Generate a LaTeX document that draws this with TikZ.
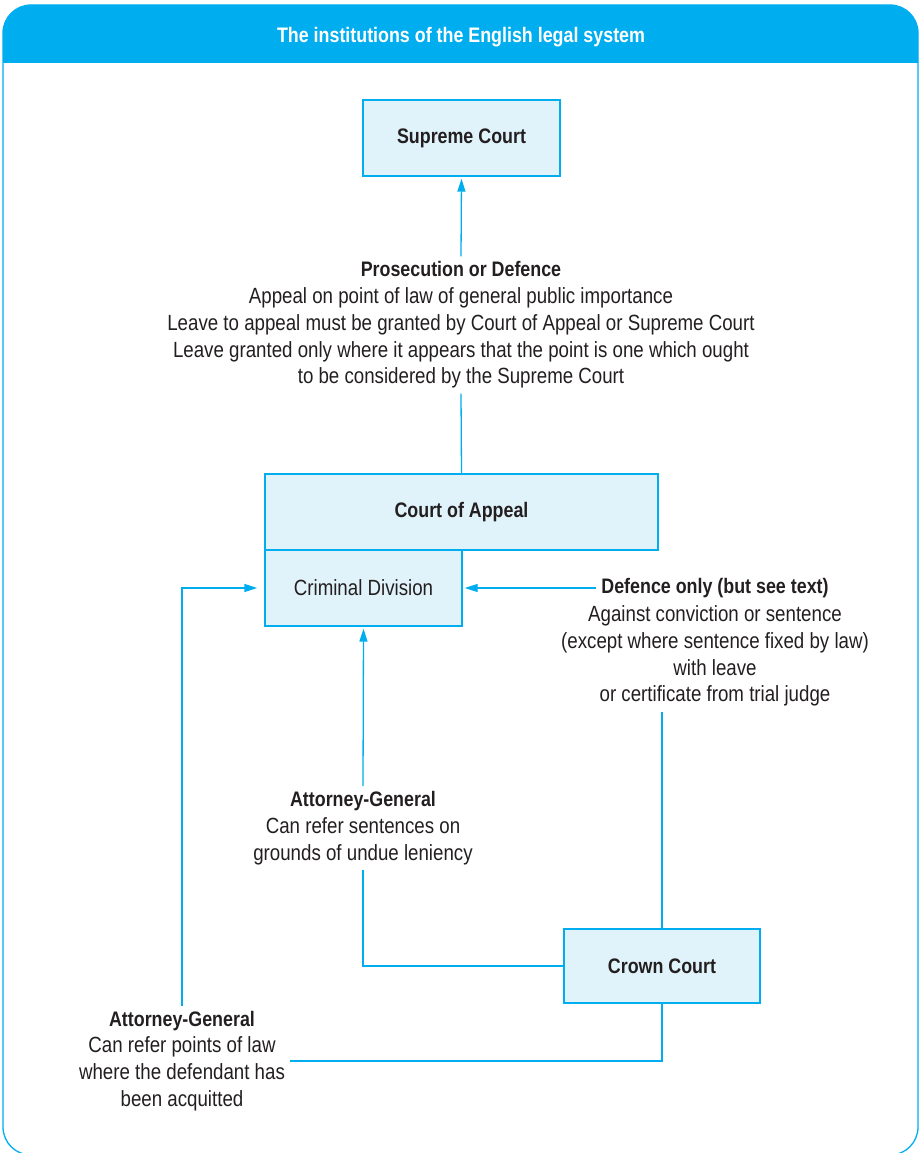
\documentclass[tikz,border=0pt]{standalone}
\usepackage{fontspec}
\setmainfont{Liberation Sans}[FakeStretch=0.85]
\usetikzlibrary{arrows.meta,positioning}
\definecolor{lineblue}{RGB}{0,174,239}
\definecolor{boxblue}{RGB}{224,242,250}
\definecolor{ink}{RGB}{35,31,32}
\begin{document}
\begin{tikzpicture}[x=1pt,y=-1pt,
    court/.style={draw=lineblue,fill=boxblue,line width=1.3pt,text=ink,
      font=\fontsize{21}{27}\selectfont\bfseries,inner sep=0pt},
    note/.style={align=center,text=ink,font=\fontsize{22}{26.8}\selectfont,inner sep=5pt},
    head/.style={note,font=\fontsize{21}{26.8}\selectfont\bfseries},
    link/.style={draw=lineblue,line width=1.3pt},
    arr/.style={link,-{Triangle[length=13pt,width=8pt]},shorten >=2pt}]
\useasboundingbox (0,0) rectangle (918,1153);
\begin{scope}
  \clip (0,0) rectangle (918,63);
  \fill[lineblue,rounded corners=28] (3,5) rectangle (918,200);
\end{scope}
\draw[lineblue,line width=1.3pt,rounded corners=28] (3,5) rectangle (918,1155);
\node[text=white,font=\fontsize{21}{25}\selectfont\bfseries] (title) at (461,37) {The institutions of the English legal system};

\node[court,minimum width=197,minimum height=76] (sup) at (461.5,138) {Supreme Court};
\node[court,minimum width=393,minimum height=76] (coa) at (461.5,512) {Court of Appeal};
\node[court,minimum width=197,minimum height=76,font=\fontsize{22}{27}\selectfont] (crim) at (363.5,588) {Criminal Division};
\node[court,minimum width=196,minimum height=74] (crown) at (662,966) {Crown Court};

\node[note] (pros) at (461,325) {{\fontsize{21}{26.8}\selectfont\bfseries Prosecution or Defence}\\
  Appeal on point of law of general public importance\\
  Leave to appeal must be granted by Court of Appeal or Supreme Court\\
  Leave granted only where it appears that the point is one which ought\\
  to be considered by the Supreme Court};
\node[head] (defh) at (715,588) {Defence only (but see text)};
\node[note] (defb) at (715,656) {Against conviction or sentence\\
  (except where sentence fixed by law)\\
  with leave\\
  or certificate from trial judge};
\node[note] (agone) at (363,828) {{\fontsize{21}{26.8}\selectfont\bfseries Attorney-General}\\
  Can refer sentences on\\
  grounds of undue leniency};
\node[note] (agtwo) at (182,1061) {{\fontsize{21}{26.8}\selectfont\bfseries Attorney-General}\\
  Can refer points of law\\
  where the defendant has\\
  been acquitted};

\draw[arr] (pros.north) -- (sup.south);
\draw[link] (pros.south) -- (coa.north);
\draw[arr] (defh.west) -- (crim.east);
\draw[link] (crown.north) -- (crown.north |- defb.south);
\draw[arr] (agone.north) -- (crim.south);
\draw[link] (crown.west) -| (agone.south);
\draw[link] (crown.south) |- (agtwo.east);
\draw[arr,shorten >=7pt] (agtwo.north) |- (crim.west);
\end{tikzpicture}
\end{document}
